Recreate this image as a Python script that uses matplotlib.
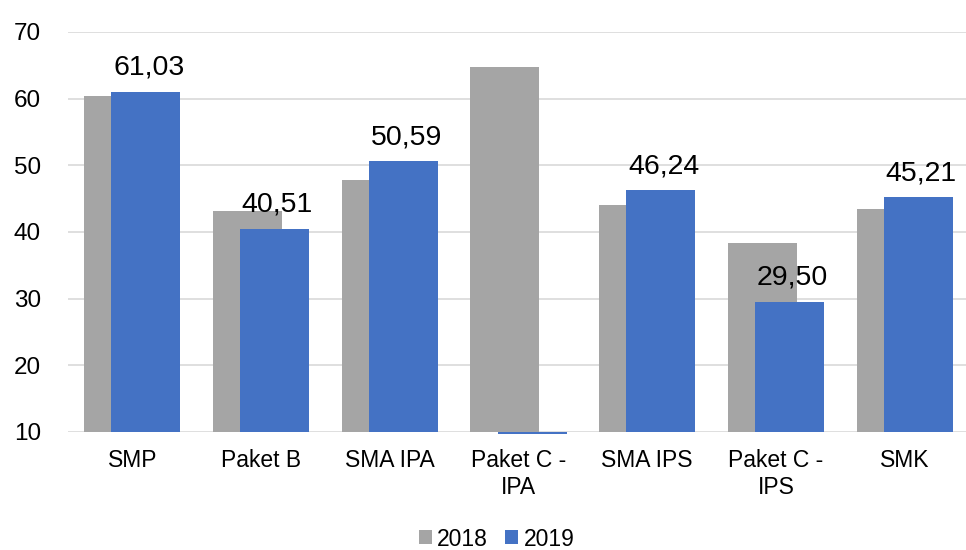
import numpy as np
import matplotlib
matplotlib.use("Agg")
import matplotlib.pyplot as plt

plt.rcParams["font.family"] = ["Liberation Sans", "DejaVu Sans"]

categories = ["SMP", "Paket B", "SMA IPA", "Paket C -\nIPA", "SMA IPS", "Paket C -\nIPS", "SMK"]
series_names = ["2018", "2019"]
values_2018 = np.array([60.4, 43.2, 47.8, 64.8, 44.1, 38.3, 43.4])
values_2019 = np.array([61.03, 40.51, 50.59, 9.7, 46.24, 29.50, 45.21])
y_ticks = [10, 20, 30, 40, 50, 60, 70]

GRAY = "#A5A5A5"
BLUE = "#4472C4"
GRID = "#D9D9D9"

fig = plt.figure(figsize=(9.66, 5.5), dpi=100)
ax = fig.add_axes([68 / 966, 118 / 550, 901 / 966, 400 / 550])

ymin, ymax = y_ticks[0], y_ticks[-1]
x = np.arange(len(categories))
width = 0.536
shift = 0.105

# Excel-style: bars grow from the axis minimum
ax.bar(x - shift, values_2018 - ymin, bottom=ymin, width=width, color=GRAY,
       label=series_names[0], zorder=2, clip_on=False)
ax.bar(x + shift, values_2019 - ymin, bottom=ymin, width=width, color=BLUE,
       label=series_names[1], zorder=3, clip_on=False)

for xi, v in zip(x, values_2019):
    if v < ymin:
        continue
    ax.annotate(f"{v:.2f}".replace(".", ","), (xi + shift, v),
                xytext=(2, 12.3), textcoords="offset points",
                ha="center", va="baseline", fontsize=20.5, color="#000000",
                zorder=4)

ax.set_xlim(-0.5, len(categories) - 0.5)
ax.set_ylim(ymin, ymax)
ax.set_yticks(y_ticks)
ax.set_xticks(x)
ax.set_xticklabels(categories, fontsize=16.5, linespacing=1.2)
ax.tick_params(axis="y", labelsize=17.5, length=0, pad=19.5)
ax.tick_params(axis="x", length=0, pad=12.5)
ax.yaxis.grid(True, color=GRID, linewidth=1.2, zorder=0)
ax.set_axisbelow(True)
for s in ax.spines.values():
    s.set_visible(False)

handles, labels = ax.get_legend_handles_labels()
fig.legend(handles, labels, loc="center", bbox_to_anchor=(0.514, 0.02),
           ncol=2, frameon=False, fontsize=16.5, handlelength=0.57,
           handleheight=0.57, handletextpad=0.22, columnspacing=0.77,
           borderpad=0, borderaxespad=0)

fig.savefig("out.png", dpi=100)
